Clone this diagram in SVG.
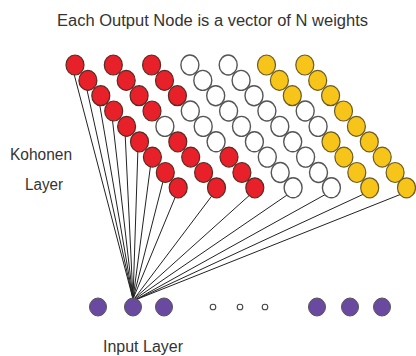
<svg xmlns="http://www.w3.org/2000/svg" width="416" height="356" viewBox="0 0 416 356">
<style>
text{font-family:"Liberation Sans",Arial,sans-serif;fill:#333;font-size:16px}
ellipse.r,ellipse.w,ellipse.y{}
.r{fill:#e8202a;stroke:#5a2a22;stroke-width:1.2}
.w{fill:#fff;stroke:#555;stroke-width:1.4}
.y{fill:#f7c41a;stroke:#6a5a20;stroke-width:1.2}
.p{fill:#6a4aa0;stroke:#555;stroke-width:1}
.s{fill:#fff;stroke:#444;stroke-width:1.1}
#connectors line{stroke:#222;stroke-width:1}
</style>
<rect width="416" height="356" fill="#fff"/>
<text x="57" y="26" textLength="311" lengthAdjust="spacingAndGlyphs">Each Output Node is a vector of N weights</text>
<text x="10" y="160" textLength="62" lengthAdjust="spacingAndGlyphs">Kohonen</text>
<text x="25" y="190" textLength="38" lengthAdjust="spacingAndGlyphs">Layer</text>
<text x="103" y="352" textLength="80" lengthAdjust="spacingAndGlyphs">Input Layer</text>
<g id="connectors">
<line x1="73" y1="70" x2="133" y2="299"/>
<line x1="86" y1="85.4" x2="133" y2="299"/>
<line x1="99" y1="100.7" x2="133" y2="299"/>
<line x1="112" y1="116" x2="133" y2="299"/>
<line x1="125" y1="131.4" x2="133" y2="299"/>
<line x1="138" y1="146.8" x2="133" y2="299"/>
<line x1="151" y1="162.1" x2="133" y2="299"/>
<line x1="164" y1="177.5" x2="133" y2="299"/>
<line x1="177" y1="192.8" x2="133" y2="299"/>
<line x1="214" y1="193" x2="134" y2="299"/>
<line x1="252" y1="193" x2="134" y2="299"/>
<line x1="290" y1="193" x2="135" y2="299"/>
<line x1="328" y1="193" x2="135" y2="300"/>
<line x1="366" y1="193" x2="135" y2="300"/>
<line x1="404" y1="193" x2="135" y2="300"/>
</g>
<g id="chain0">
<g id="k0-0"><ellipse class="r" cx="75" cy="65" rx="9" ry="10"/></g>
<g id="k0-1"><ellipse class="r" cx="87.9" cy="80.4" rx="9" ry="10"/></g>
<g id="k0-2"><ellipse class="r" cx="100.8" cy="95.7" rx="9" ry="10"/></g>
<g id="k0-3"><ellipse class="r" cx="113.7" cy="111" rx="9" ry="10"/></g>
<g id="k0-4"><ellipse class="r" cx="126.6" cy="126.4" rx="9" ry="10"/></g>
<g id="k0-5"><ellipse class="r" cx="139.5" cy="141.8" rx="9" ry="10"/></g>
<g id="k0-6"><ellipse class="r" cx="152.4" cy="157.1" rx="9" ry="10"/></g>
<g id="k0-7"><ellipse class="r" cx="165.3" cy="172.5" rx="9" ry="10"/></g>
<g id="k0-8"><ellipse class="r" cx="178.2" cy="187.8" rx="9" ry="10"/></g>
</g>
<g id="chain1">
<g id="k1-0"><ellipse class="r" cx="113.3" cy="65" rx="9" ry="10"/></g>
<g id="k1-1"><ellipse class="r" cx="126.2" cy="80.4" rx="9" ry="10"/></g>
<g id="k1-2"><ellipse class="r" cx="139.1" cy="95.7" rx="9" ry="10"/></g>
<g id="k1-3"><ellipse class="r" cx="152" cy="111" rx="9" ry="10"/></g>
<g id="k1-4"><ellipse class="w" cx="164.9" cy="126.4" rx="9" ry="10"/></g>
<g id="k1-5"><ellipse class="r" cx="177.8" cy="141.8" rx="9" ry="10"/></g>
<g id="k1-6"><ellipse class="r" cx="190.7" cy="157.1" rx="9" ry="10"/></g>
<g id="k1-7"><ellipse class="r" cx="203.6" cy="172.5" rx="9" ry="10"/></g>
<g id="k1-8"><ellipse class="r" cx="216.5" cy="187.8" rx="9" ry="10"/></g>
</g>
<g id="chain2">
<g id="k2-0"><ellipse class="r" cx="151.6" cy="65" rx="9" ry="10"/></g>
<g id="k2-1"><ellipse class="r" cx="164.5" cy="80.4" rx="9" ry="10"/></g>
<g id="k2-2"><ellipse class="r" cx="177.4" cy="95.7" rx="9" ry="10"/></g>
<g id="k2-3"><ellipse class="w" cx="190.3" cy="111" rx="9" ry="10"/></g>
<g id="k2-4"><ellipse class="w" cx="203.2" cy="126.4" rx="9" ry="10"/></g>
<g id="k2-5"><ellipse class="w" cx="216.1" cy="141.8" rx="9" ry="10"/></g>
<g id="k2-6"><ellipse class="r" cx="229" cy="157.1" rx="9" ry="10"/></g>
<g id="k2-7"><ellipse class="r" cx="241.9" cy="172.5" rx="9" ry="10"/></g>
<g id="k2-8"><ellipse class="r" cx="254.8" cy="187.8" rx="9" ry="10"/></g>
</g>
<g id="chain3">
<g id="k3-0"><ellipse class="w" cx="189.9" cy="65" rx="9" ry="10"/></g>
<g id="k3-1"><ellipse class="w" cx="202.8" cy="80.4" rx="9" ry="10"/></g>
<g id="k3-2"><ellipse class="w" cx="215.7" cy="95.7" rx="9" ry="10"/></g>
<g id="k3-3"><ellipse class="w" cx="228.6" cy="111" rx="9" ry="10"/></g>
<g id="k3-4"><ellipse class="w" cx="241.5" cy="126.4" rx="9" ry="10"/></g>
<g id="k3-5"><ellipse class="w" cx="254.4" cy="141.8" rx="9" ry="10"/></g>
<g id="k3-6"><ellipse class="w" cx="267.3" cy="157.1" rx="9" ry="10"/></g>
<g id="k3-7"><ellipse class="w" cx="280.2" cy="172.5" rx="9" ry="10"/></g>
<g id="k3-8"><ellipse class="w" cx="293.1" cy="187.8" rx="9" ry="10"/></g>
</g>
<g id="chain4">
<g id="k4-0"><ellipse class="w" cx="228.2" cy="65" rx="9" ry="10"/></g>
<g id="k4-1"><ellipse class="w" cx="241.1" cy="80.4" rx="9" ry="10"/></g>
<g id="k4-2"><ellipse class="w" cx="254" cy="95.7" rx="9" ry="10"/></g>
<g id="k4-3"><ellipse class="w" cx="266.9" cy="111" rx="9" ry="10"/></g>
<g id="k4-4"><ellipse class="w" cx="279.8" cy="126.4" rx="9" ry="10"/></g>
<g id="k4-5"><ellipse class="w" cx="292.7" cy="141.8" rx="9" ry="10"/></g>
<g id="k4-6"><ellipse class="w" cx="305.6" cy="157.1" rx="9" ry="10"/></g>
<g id="k4-7"><ellipse class="w" cx="318.5" cy="172.5" rx="9" ry="10"/></g>
<g id="k4-8"><ellipse class="w" cx="331.4" cy="187.8" rx="9" ry="10"/></g>
</g>
<g id="chain5">
<g id="k5-0"><ellipse class="y" cx="266.5" cy="65" rx="9" ry="10"/></g>
<g id="k5-1"><ellipse class="y" cx="279.4" cy="80.4" rx="9" ry="10"/></g>
<g id="k5-2"><ellipse class="y" cx="292.3" cy="95.7" rx="9" ry="10"/></g>
<g id="k5-3"><ellipse class="w" cx="305.2" cy="111" rx="9" ry="10"/></g>
<g id="k5-4"><ellipse class="w" cx="318.1" cy="126.4" rx="9" ry="10"/></g>
<g id="k5-5"><ellipse class="y" cx="331" cy="141.8" rx="9" ry="10"/></g>
<g id="k5-6"><ellipse class="y" cx="343.9" cy="157.1" rx="9" ry="10"/></g>
<g id="k5-7"><ellipse class="y" cx="356.8" cy="172.5" rx="9" ry="10"/></g>
<g id="k5-8"><ellipse class="y" cx="369.7" cy="187.8" rx="9" ry="10"/></g>
</g>
<g id="chain6">
<g id="k6-0"><ellipse class="y" cx="304.8" cy="65" rx="9" ry="10"/></g>
<g id="k6-1"><ellipse class="y" cx="317.7" cy="80.4" rx="9" ry="10"/></g>
<g id="k6-2"><ellipse class="y" cx="330.6" cy="95.7" rx="9" ry="10"/></g>
<g id="k6-3"><ellipse class="y" cx="343.5" cy="111" rx="9" ry="10"/></g>
<g id="k6-4"><ellipse class="y" cx="356.4" cy="126.4" rx="9" ry="10"/></g>
<g id="k6-5"><ellipse class="y" cx="369.3" cy="141.8" rx="9" ry="10"/></g>
<g id="k6-6"><ellipse class="y" cx="382.2" cy="157.1" rx="9" ry="10"/></g>
<g id="k6-7"><ellipse class="y" cx="395.1" cy="172.5" rx="9" ry="10"/></g>
<g id="k6-8"><ellipse class="y" cx="406.5" cy="187.8" rx="9" ry="10"/></g>
</g>
<g id="inputs">
<g id="in1"><ellipse class="p" cx="98" cy="307" rx="8.5" ry="9"/></g>
<g id="in2"><ellipse class="p" cx="133" cy="307" rx="8.5" ry="9"/></g>
<g id="in3"><ellipse class="p" cx="164" cy="307" rx="8.5" ry="9"/></g>
<g id="dot1"><circle class="s" cx="213" cy="307" r="2.8"/></g>
<g id="dot2"><circle class="s" cx="240" cy="307" r="2.8"/></g>
<g id="dot3"><circle class="s" cx="265" cy="307" r="2.8"/></g>
<g id="in4"><ellipse class="p" cx="317" cy="307" rx="8.5" ry="9"/></g>
<g id="in5"><ellipse class="p" cx="350" cy="307" rx="8.5" ry="9"/></g>
<g id="in6"><ellipse class="p" cx="382" cy="307" rx="8.5" ry="9"/></g>
</g>
</svg>
